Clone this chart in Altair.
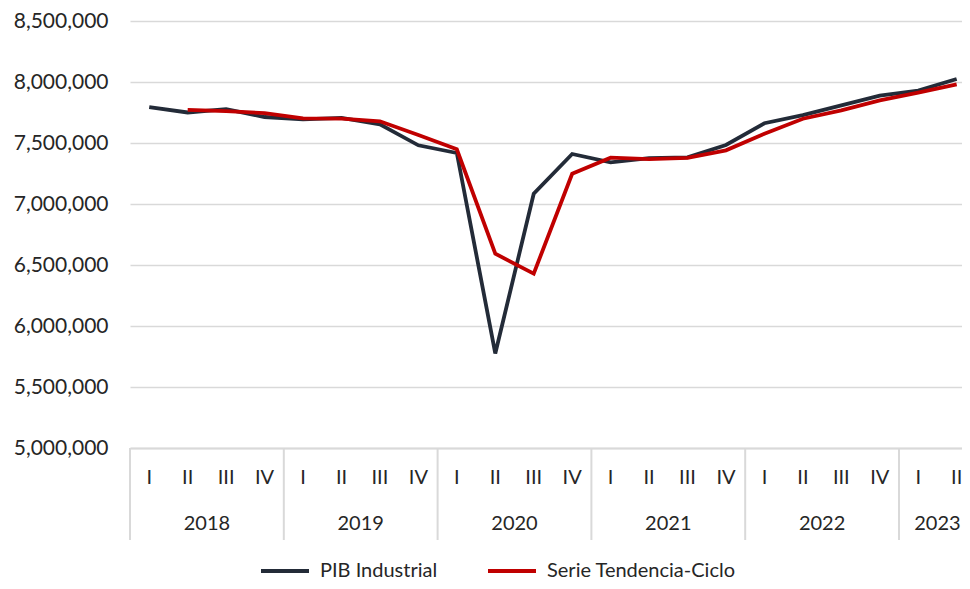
import altair as alt
import pandas as pd

# ---- data ----
years = ["2018", "2019", "2020", "2021", "2022", "2023"]
quarters_per_year = [4, 4, 4, 4, 4, 2]
roman = ["I", "II", "III", "IV"]

pib_industrial = [7795000, 7750000, 7778000, 7713000, 7694000, 7706000, 7653000, 7481000,
                  7418000, 5775000, 7084000, 7410000, 7342000, 7376000, 7382000, 7484000,
                  7662000, 7728000, 7808000, 7888000, 7930000, 8025000]
tendencia_ciclo = [None, 7772000, 7762000, 7745000, 7702000, 7699000, 7678000, 7566000,
                   7448000, 6593000, 6429000, 7248000, 7380000, 7368000, 7378000, 7440000,
                   7576000, 7699000, 7767000, 7849000, 7912000, 7981000]
y_ticks = [5000000, 5500000, 6000000, 6500000, 7000000, 7500000, 8000000, 8500000]

series_names = ["PIB Industrial", "Serie Tendencia-Ciclo"]
series_colors = ["#232b38", "#c00000"]

# ---- tables ----
q_labels = []
for yr, n in zip(years, quarters_per_year):
    for k in range(n):
        q_labels.append(roman[k])
idx = list(range(len(q_labels)))

rows = []
for name, vals in zip(series_names, [pib_industrial, tendencia_ciclo]):
    for i, v in zip(idx, vals):
        if v is not None:
            rows.append({"idx": i, "value": v, "serie": name})
df = pd.DataFrame(rows)

qdf = pd.DataFrame({"idx": idx, "label": q_labels})

ydf_rows, bounds, start = [], [], 0
for yr, n in zip(years, quarters_per_year):
    ydf_rows.append({"year": yr, "center": start + (n - 1) / 2})
    bounds.append(start - 0.5)
    start += n
ydf = pd.DataFrame(ydf_rows)
bdf = pd.DataFrame({"b": bounds})

# ---- layout ----
W, H = 832, 427
STEP = 38.45
xdom = [-0.5, -0.5 + W / STEP]
FONT = "Lato"
TXT = "#262626"

xscale = alt.Scale(domain=xdom, nice=False, zero=False)

lines = alt.Chart(df).mark_line(strokeWidth=3.8).encode(
    x=alt.X("idx:Q", scale=xscale,
            axis=alt.Axis(title=None, labels=False, ticks=False, grid=False,
                          domainColor="#d9d9d9", domainWidth=2)),
    y=alt.Y("value:Q", scale=alt.Scale(domain=[5000000, 8500000], nice=False, zero=False),
            axis=alt.Axis(title=None, values=y_ticks, format=",.0f", ticks=False, domain=False,
                          gridColor="#d9d9d9", gridWidth=1.5, labelFont=FONT,
                          labelFontSize=21, labelColor=TXT, labelPadding=22)),
    color=alt.Color("serie:N",
                    scale=alt.Scale(domain=series_names, range=series_colors),
                    legend=alt.Legend(title=None, orient="none", legendX=129, legendY=524,
                                      direction="horizontal", symbolType="stroke",
                                      symbolSize=2304, symbolStrokeWidth=4,
                                      labelFont=FONT, labelFontSize=20, labelColor=TXT,
                                      labelLimit=400, labelOffset=9, columnPadding=42)),
)

qtext = alt.Chart(qdf).mark_text(font=FONT, fontSize=20, color=TXT, baseline="middle").encode(
    x=alt.X("idx:Q", scale=xscale),
    y=alt.value(457),
    text="label:N",
)

ytext = alt.Chart(ydf).mark_text(font=FONT, fontSize=20, color=TXT, baseline="middle").encode(
    x=alt.X("center:Q", scale=xscale),
    y=alt.value(503),
    text="year:N",
)

dividers = alt.Chart(bdf).mark_rule(color="#d9d9d9", strokeWidth=2).encode(
    x=alt.X("b:Q", scale=xscale),
    y=alt.value(H),
    y2=alt.value(519),
)

chart = alt.layer(dividers, lines, qtext, ytext).properties(
    width=W, height=H,
    autosize=alt.AutoSizeParams(type="none"),
    padding={"left": 122, "top": 13, "right": 0, "bottom": 133},
).configure_view(stroke=None)

chart.save("out.html", embed_options={"renderer": "svg", "actions": False})
